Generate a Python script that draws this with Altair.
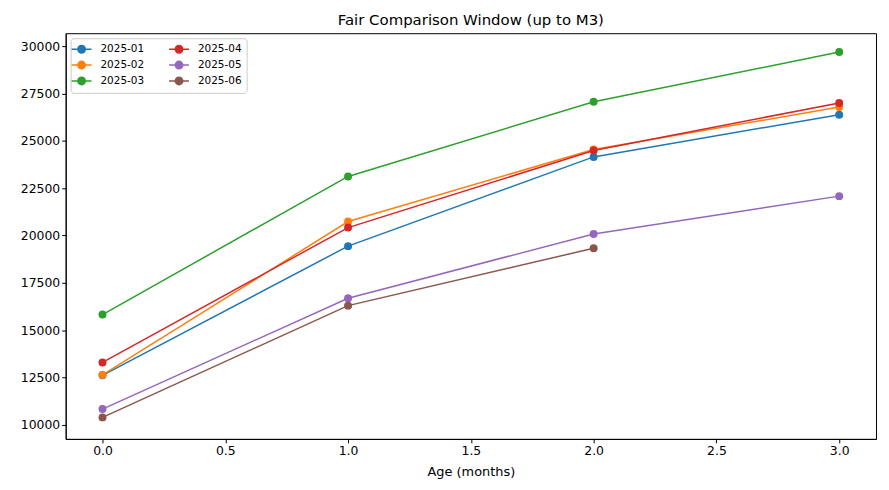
import altair as alt
import pandas as pd

cohorts = ["2025-01", "2025-02", "2025-03", "2025-04", "2025-05", "2025-06"]
ages = [0, 1, 2, 3]
values = {
    "2025-01": [12620, 19440, 24150, 26380],
    "2025-02": [12640, 20740, 24540, 26780],
    "2025-03": [15830, 23120, 27060, 29690],
    "2025-04": [13300, 20420, 24490, 27000],
    "2025-05": [10840, 16690, 20080, 22080],
    "2025-06": [10400, 16300, 19330],
}
colors = ["#1f77b4", "#ff7f0e", "#2ca02c", "#d62728", "#9467bd", "#8c564b"]

rows = []
for c in cohorts:
    for a, v in zip(ages, values[c]):
        rows.append({"age": a, "value": v, "cohort": c})
df = pd.DataFrame(rows)

font = "DejaVu Sans"
x = alt.X("age:Q", scale=alt.Scale(domain=[-0.15, 3.15], nice=False, zero=False),
          axis=alt.Axis(title="Age (months)", values=[0, 0.5, 1, 1.5, 2, 2.5, 3], format=".1f",
                        titlePadding=8))
y = alt.Y("value:Q", scale=alt.Scale(domain=[9265, 30680], nice=False, zero=False),
          axis=alt.Axis(title=None, values=list(range(10000, 30001, 2500)), format="d"))
color = alt.Color("cohort:N", scale=alt.Scale(domain=cohorts, range=colors),
                  legend=alt.Legend(title=None, orient="top-left", columns=2,
                                    symbolType="M-2,0L2,0M-0.75,0A0.75,0.75,0,1,1,0.75,0A0.75,0.75,0,1,1,-0.75,0Z",
                                    symbolSize=100, symbolStrokeWidth=1.5,
                                    labelFontSize=10.5, labelFont=font, labelOffset=13,
                                    columnPadding=22, rowPadding=2,
                                    strokeColor="#cccccc", fillColor="white",
                                    padding=5, cornerRadius=3, offset=5))

lines = alt.Chart(df).mark_line(strokeWidth=1.5).encode(x=x, y=y, color=color, detail="cohort:N")
points = alt.Chart(df).mark_circle(size=64, opacity=1).encode(x=x, y=y, color=color)

chart = alt.layer(lines, points).properties(
    width=815, height=408,
    title=alt.Title("Fair Comparison Window (up to M3)", fontSize=15, fontWeight="normal", font=font, offset=5),
    padding={"left": 12, "top": 4, "right": 5, "bottom": 5},
).configure_view(stroke="black", strokeWidth=1).configure_axis(
    grid=False, domainColor="black", tickColor="black", tickSize=4,
    labelFont=font, labelFontSize=12.5, labelColor="black",
    titleFont=font, titleFontSize=13, titleFontWeight="normal", titleColor="black",
).configure_legend(symbolFillColor="transparent")

chart.save("out.html", embed_options={"renderer": "svg", "actions": False})
